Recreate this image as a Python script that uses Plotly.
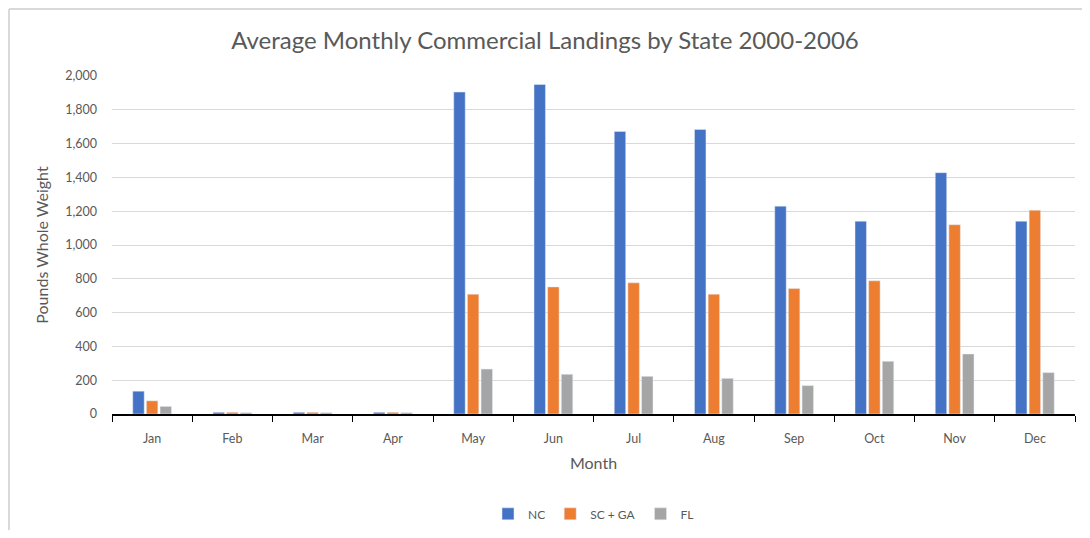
import plotly.graph_objects as go

# monthly averages
months = ['Jan', 'Feb', 'Mar', 'Apr', 'May', 'Jun', 'Jul', 'Aug', 'Sep', 'Oct', 'Nov', 'Dec']
nc = [135, 10, 10, 10, 1905, 1950, 1672, 1684, 1230, 1141, 1428, 1141]
sc_ga = [78, 10, 10, 10, 709, 752, 776, 709, 742, 788, 1120, 1206]
fl = [45, 8, 8, 8, 266, 235, 223, 211, 168, 312, 355, 245]

grey = '#595959'
fnt = 'Lato, Open Sans, sans-serif'

fig = go.Figure()
fig.add_bar(x=months, y=nc, name='NC', marker_color='#4472C4')
fig.add_bar(x=months, y=sc_ga, name='SC + GA', marker_color='#ED7D31')
fig.add_bar(x=months, y=fl, name='FL', marker_color='#A5A5A5')

# page body has an 8px margin, so the figure is a bit smaller than the window
fig.update_layout(
    width=1074, height=522,
    margin=dict(l=104, r=7, t=68, b=116),
    paper_bgcolor='white', plot_bgcolor='white',
    font=dict(family=fnt, color=grey, size=12),
    title=dict(text='Average Monthly Commercial Landings by State 2000-2006',
               x=0.5, xanchor='center', y=0.938, yanchor='middle',
               font=dict(size=24, color=grey)),
    barmode='group', bargap=0.49, bargroupgap=0.16,
    legend=dict(orientation='h', x=0.5, xanchor='center', yref='container', y=0.031, yanchor='middle',
                font=dict(size=12, color=grey), itemwidth=30, traceorder='normal'),
    showlegend=True,
)
fig.update_xaxes(title=dict(text='Month', font=dict(size=16, color=grey), standoff=13),
                 automargin=False,
                 showline=True, linecolor='black', linewidth=1.5,
                 ticks='outside', tickson='boundaries', ticklen=6, tickcolor='black',
                 ticklabelstandoff=12,
                 tickfont=dict(size=12.5, color=grey), showgrid=False)
fig.update_yaxes(title=dict(text='Pounds Whole Weight', font=dict(size=16, color=grey), standoff=12),
                 automargin=False,
                 range=[0, 2000], dtick=200, tickformat=',',
                 showgrid=True, gridcolor='#D9D9D9', gridwidth=1,
                 zeroline=False, showline=False, ticks='', ticklabelstandoff=14,
                 tickfont=dict(size=12.5, color=grey))

# thin frame line along the top and left edge of the chart area
fig.add_shape(type='line', xref='paper', yref='paper', x0=-0.107, x1=1.01, y0=1.198, y1=1.198,
              line=dict(color='#D9D9D9', width=2))
fig.add_shape(type='line', xref='paper', yref='paper', x0=-0.107, x1=-0.107, y0=1.198, y1=-0.4,
              line=dict(color='#D9D9D9', width=2))

fig.write_html('out.html')
